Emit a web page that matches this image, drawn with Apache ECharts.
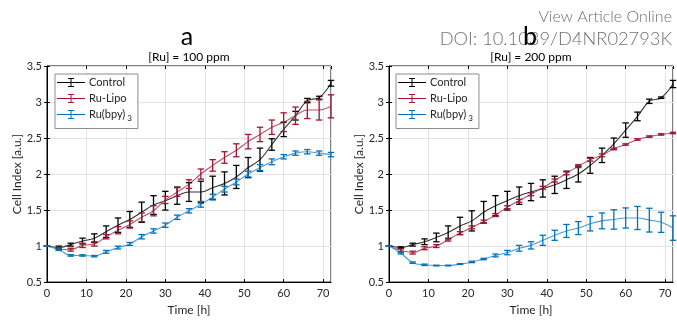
<!DOCTYPE html>
<html><head><meta charset="utf-8">
<script src="https://cdn.jsdelivr.net/npm/echarts@6/dist/echarts.min.js"></script>
<style>html,body{margin:0;padding:0;background:#fff}#c{width:677px;height:321px}</style>
</head><body><div id="c"></div>
<script>
const timeH = [0,3,6,9,12,15,18,21,24,27,30,33,36,39,42,45,48,51,54,57,60,63,66,69,72];
const seriesNames = ['Control','Ru-Lipo','Ru(bpy)3'];
const yTicks = [0.5,1,1.5,2,2.5,3,3.5];
// panel a: [Ru] = 100 ppm
const ctrlA    = [1.00,0.98,1.02,1.07,1.11,1.20,1.29,1.37,1.47,1.57,1.63,1.70,1.75,1.75,1.81,1.87,1.96,2.09,2.20,2.41,2.62,2.81,3.02,3.06,3.26];
const ctrlAErr = [0,0.02,0.02,0.04,0.06,0.08,0.10,0.11,0.14,0.13,0.13,0.12,0.13,0.15,0.16,0.16,0.16,0.14,0.16,0.08,0.10,0.06,0.03,0.02,0.04];
const lipoA    = [1.00,0.96,0.95,1.01,1.03,1.13,1.22,1.30,1.40,1.49,1.64,1.75,1.86,2.00,2.12,2.23,2.33,2.45,2.55,2.65,2.72,2.81,2.89,2.89,2.94];
const lipoAErr = [0,0.02,0.02,0.03,0.03,0.03,0.05,0.05,0.06,0.07,0.05,0.06,0.06,0.07,0.08,0.08,0.09,0.10,0.10,0.10,0.13,0.12,0.12,0.14,0.16];
const bpyA     = [1.00,0.95,0.87,0.87,0.86,0.92,0.98,1.03,1.13,1.21,1.29,1.40,1.49,1.58,1.68,1.79,1.89,2.00,2.09,2.17,2.24,2.29,2.31,2.29,2.27];
const bpyAErr  = [0,0.01,0.01,0.01,0.01,0.02,0.02,0.02,0.03,0.03,0.03,0.03,0.03,0.04,0.04,0.04,0.04,0.04,0.04,0.04,0.03,0.03,0.03,0.03,0.03];
// panel b: [Ru] = 200 ppm
const ctrlB    = [1.00,0.98,1.02,1.06,1.12,1.19,1.28,1.35,1.47,1.56,1.63,1.70,1.75,1.80,1.85,1.92,2.00,2.12,2.26,2.42,2.61,2.80,3.01,3.06,3.25];
const ctrlBErr = [0,0.01,0.02,0.04,0.06,0.09,0.12,0.14,0.15,0.14,0.13,0.12,0.12,0.12,0.12,0.12,0.11,0.11,0.10,0.08,0.10,0.06,0.03,0.01,0.05];
const lipoB    = [1.00,0.94,0.91,0.97,1.00,1.09,1.18,1.26,1.34,1.43,1.54,1.63,1.72,1.81,1.91,2.01,2.11,2.20,2.26,2.35,2.41,2.48,2.52,2.55,2.57];
const lipoBErr = [0,0.02,0.02,0.02,0.02,0.02,0.02,0.02,0.02,0.02,0.02,0.02,0.02,0.02,0.02,0.02,0.02,0.02,0.02,0.01,0.01,0.01,0.01,0.01,0.01];
const bpyB     = [1.00,0.90,0.77,0.74,0.73,0.73,0.75,0.78,0.82,0.87,0.91,0.97,1.01,1.08,1.15,1.21,1.25,1.31,1.35,1.37,1.39,1.39,1.36,1.33,1.25];
const bpyBErr  = [0,0.01,0.01,0.01,0.005,0.005,0.005,0.01,0.01,0.02,0.03,0.04,0.05,0.07,0.07,0.09,0.09,0.10,0.11,0.135,0.14,0.16,0.165,0.14,0.17];

const FONT = 'Lato';
const colors = ['#000000','#A2142F','#0072BD'];
const lineColors = ['#333333','#C0506A','#4F9BD6'];

function renderErr(params, api){
  const x = api.value(0), lo = api.value(1), hi = api.value(2);
  const p1 = api.coord([x, lo]), p2 = api.coord([x, hi]);
  const w = 3.2;
  const st = {stroke: api.visual('color'), lineWidth: 1.3};
  return {type:'group', children:[
    {type:'line', shape:{x1:p1[0],y1:p1[1],x2:p2[0],y2:p2[1]}, style:st},
    {type:'line', shape:{x1:p1[0]-w,y1:p1[1],x2:p1[0]+w,y2:p1[1]}, style:st},
    {type:'line', shape:{x1:p2[0]-w,y1:p2[1],x2:p2[0]+w,y2:p2[1]}, style:st}
  ]};
}
function pairs(vals){ return timeH.map((t,i)=>[t, vals[i]]); }
function errData(vals, errs){ return timeH.map((t,i)=>[t, vals[i]-errs[i], vals[i]+errs[i]]); }

const panels = [
  {data:[ctrlA,lipoA,bpyA], errs:[ctrlAErr,lipoAErr,bpyAErr]},
  {data:[ctrlB,lipoB,bpyB], errs:[ctrlBErr,lipoBErr,bpyBErr]}
];

const grids = [
  {left:47, right:346, top:66, bottom:35, show:true, borderColor:'#000', borderWidth:1, backgroundColor:'transparent'},
  {left:389, right:4, top:66, bottom:35, show:true, borderColor:'#000', borderWidth:1, backgroundColor:'transparent'}
];
const xAxes = [], yAxes = [], series = [];
const labelStyle = {color:'#262626', fontFamily:FONT, fontSize:11};
grids.forEach((g,gi)=>{
  xAxes.push({type:'value', gridIndex:gi, min:0, max:72, interval:10, position:'bottom',
    name:'Time [h]', nameLocation:'middle', nameGap:18,
    nameTextStyle:{color:'#262626', fontFamily:FONT, fontSize:12},
    axisLine:{lineStyle:{color:'#000'}}, axisTick:{inside:true, length:3, lineStyle:{color:'#000'}},
    axisLabel:Object.assign({showMaxLabel:false, margin:6}, labelStyle),
    splitLine:{show:true, lineStyle:{color:'#e3e3e3', width:1}}});
  xAxes.push({type:'value', gridIndex:gi, min:0, max:72, interval:10, position:'top',
    axisLine:{show:false}, axisTick:{inside:true, length:3, lineStyle:{color:'#000'}},
    axisLabel:{show:false}, splitLine:{show:false}});
  yAxes.push({type:'value', gridIndex:gi, min:yTicks[0], max:yTicks[yTicks.length-1], interval:0.5, position:'left',
    name:'Cell Index [a.u.]', nameLocation:'middle', nameGap:19,
    nameTextStyle:{color:'#262626', fontFamily:FONT, fontSize:12},
    axisLine:{show:true, lineStyle:{color:'#000'}}, axisTick:{show:true, inside:true, length:3, lineStyle:{color:'#000'}},
    axisLabel:Object.assign({margin:5}, labelStyle),
    splitLine:{show:true, lineStyle:{color:'#e3e3e3', width:1}}});
  yAxes.push({type:'value', gridIndex:gi, min:yTicks[0], max:yTicks[yTicks.length-1], interval:0.5, position:'right',
    axisLine:{show:false}, axisTick:{show:true, inside:true, length:3, lineStyle:{color:'#000'}},
    axisLabel:{show:false}, splitLine:{show:false}});
  const P = panels[gi];
  seriesNames.forEach((nm,si)=>{
    series.push({type:'line', name:nm, xAxisIndex:gi*2, yAxisIndex:gi*2, data:pairs(P.data[si]),
      smooth:0.4, showSymbol:false, symbol:'none', color:colors[si],
      lineStyle:{color:lineColors[si], width:1.1}, z:2});
    series.push({type:'custom', name:nm+' err', xAxisIndex:gi*2, yAxisIndex:gi*2,
      data:errData(P.data[si], P.errs[si]), renderItem:renderErr,
      itemStyle:{color:colors[si]}, encode:{x:0, y:[1,2]}, clip:false, z:3});
  });
});

const iconPath = 'path://M0,4h28v1H0z M13.5,0h1v9h-1z M11,0h6v1h-6z M11,8h6v1h-6z';
function mkLegend(left){
  return {left:left, top:74, orient:'vertical', itemWidth:28, itemHeight:9, itemGap:5,
    padding:[3,6,6,2], borderColor:'#8c8c8c', borderWidth:1, backgroundColor:'#fff',
    selectedMode:false,
    data:seriesNames.map(n=>({name:n, icon:iconPath})),
    formatter: n => n==='Ru(bpy)3' ? 'Ru(bpy){sub|3}' : n,
    textStyle:{color:'#262626', fontFamily:FONT, fontSize:11, padding:[0,0,0,-1],
      rich:{sub:{fontSize:8, fontFamily:FONT, color:'#262626', padding:[8,0,0,2]}}}};
}

const chart = echarts.init(document.getElementById('c'), null, {renderer:'canvas'});
chart.setOption({
  animation:false,
  backgroundColor:'#fff',
  grid:grids, xAxis:xAxes, yAxis:yAxes, series:series,
  legend:[mkLegend(55), mkLegend(396)],
  graphic:[
    {type:'text', right:5, top:9, z:10, style:{text:'View Article Online', fill:'#707070', font:'300 16px '+FONT}},
    {type:'text', right:5, top:30, z:10, style:{text:'DOI: 10.1039/D4NR02793K', fill:'#707070', font:'300 18.3px '+FONT}},
    {type:'text', x:187, y:37, z:11, style:{text:'a', fill:'#000', font:'25px '+FONT, align:'center', verticalAlign:'middle'}},
    {type:'text', x:189, y:57, z:11, style:{text:'[Ru] = 100 ppm', fill:'#000', font:'12px '+FONT, align:'center', verticalAlign:'middle'}},
    {type:'text', x:530, y:37, z:11, style:{text:'b', fill:'#000', font:'25px '+FONT, align:'center', verticalAlign:'middle'}},
    {type:'text', x:531, y:57, z:11, style:{text:'[Ru] = 200 ppm', fill:'#000', font:'12px '+FONT, align:'center', verticalAlign:'middle'}}
  ]
});
</script></body></html>
